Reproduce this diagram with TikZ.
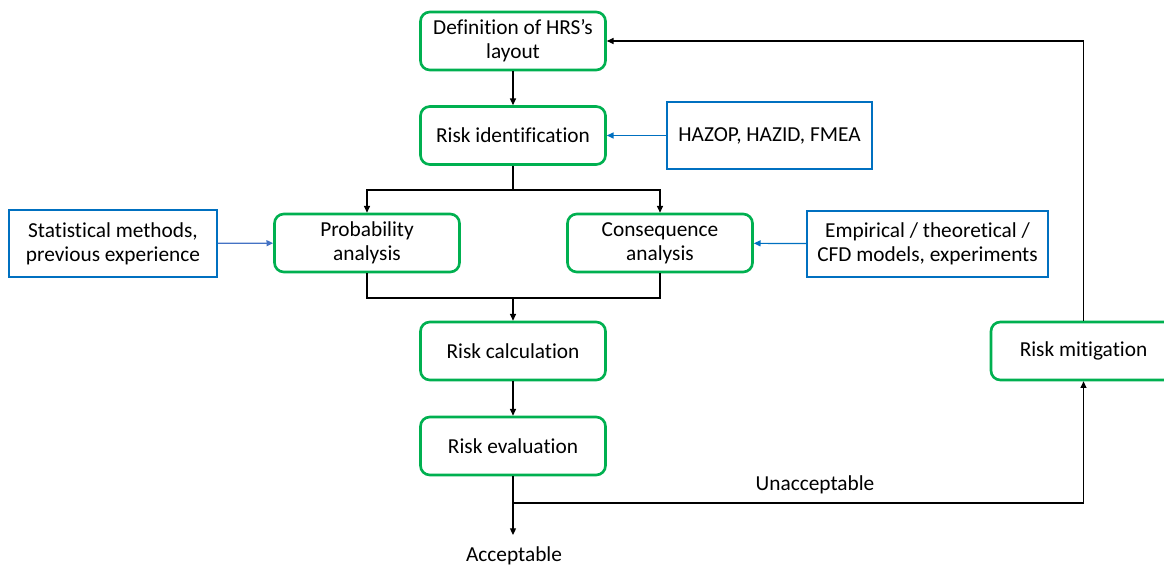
\documentclass[tikz,border=0pt]{standalone}
\usepackage{fontspec}
\setmainfont{Carlito}[Ligatures=NoCommon]
\usetikzlibrary{arrows.meta}
\definecolor{boxgreen}{RGB}{0,176,80}
\definecolor{boxblue}{RGB}{0,112,192}
\definecolor{lineblue}{RGB}{68,114,196}
\tikzset{
  txt/.style={font=\fontsize{16}{18}\selectfont},
  greenbox/.style={txt, draw=boxgreen, line width=2pt, rounded corners=7pt,
    minimum width=138.75pt, minimum height=43.5pt, align=center},
  bluebox/.style={txt, draw=boxblue, line width=1.3pt,
    minimum height=50pt, align=center},
  arrow/.style={line width=0.9pt, -{Triangle[length=5pt,width=4.5pt]}},
  bluearrow/.style={arrow, draw=boxblue},
}

\begin{document}
\begin{tikzpicture}[x=0.75pt, y=-0.75pt]
    \useasboundingbox (0,0) rectangle (1164,566);
    % main chain
    \node[greenbox] (def) at (513,41) {Definition of HRS's\\layout};
    \node[greenbox] (riskid) at (513,135.5) {Risk identification};
    \node[greenbox] (prob) at (367,243) {Probability\\analysis};
    \node[greenbox] (cons) at (660,243) {Consequence\\analysis};
    \node[greenbox] (calc) at (513,351) {Risk calculation};
    \node[greenbox] (eval) at (513,446) {Risk evaluation};
    \node[greenbox] (mitig) at (1083.5,351) {Risk mitigation};
    % inputs
    \node[bluebox, minimum width=153.75pt] (hazop) at (769.5,135.5) {HAZOP, HAZID, FMEA};
    \node[bluebox, minimum width=156pt] (stat) at (113,243.5) {Statistical methods,\\previous experience};
    \node[bluebox, minimum width=180.75pt] (emp) at (927.5,244) {Empirical / theoretical /\\CFD models, experiments};
    \coordinate (split) at (513,190);
    \coordinate (join) at (513,298);
    \coordinate (accend) at (513,535);
    \coordinate (turn) at (513,503);

    \draw[arrow] (def) -- (riskid);
    \draw[bluearrow] (hazop) -- (riskid);
    \draw[line width=0.9pt] (riskid) -- (split);
    \draw[arrow] (split) -| (prob);
    \draw[arrow] (split) -| (cons);
    \draw[arrow, draw=lineblue] (stat) -- (prob);
    \draw[bluearrow] (emp) -- (cons);
    \draw[line width=0.9pt] (prob) |- (join) -| (cons);
    \draw[arrow] (join) -- (calc);
    \draw[arrow] (calc) -- (eval);
    \draw[arrow] (eval) -- (accend);
    \node[txt] (acc) at (514,556) {Acceptable};
    \node[txt] (unacc) at (815,485) {Unacceptable};
    \draw[arrow] (turn) -| (mitig);
    \draw[arrow] (mitig) |- (def); % feedback loop
\end{tikzpicture}
\end{document}
